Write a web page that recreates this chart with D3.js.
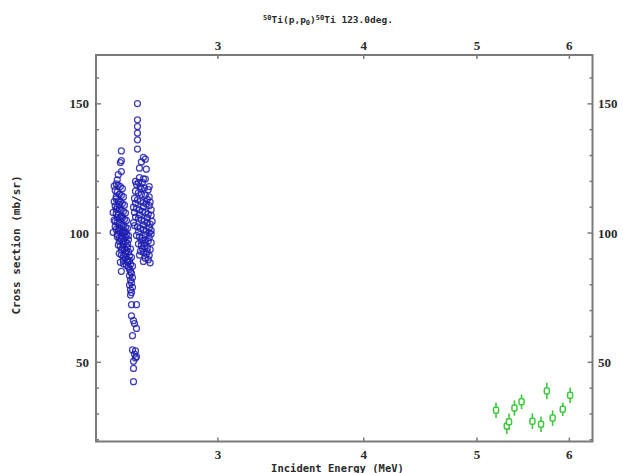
<!DOCTYPE html>
<html>
<head>
<meta charset="utf-8">
<script src="https://cdn.jsdelivr.net/npm/d3@7"></script>
<style>
  body { margin: 0; background: #fff; }
</style>
</head>
<body>
<div id="chart"></div>
<script>
// tick values
var xTicks = [3, 4, 5, 6];
var yMajor = [50, 100, 150];
var yMinor = [20, 30, 40, 60, 70, 80, 90, 110, 120, 130, 140, 160];

// blue set: [energy MeV, cross section mb/sr]
var blueLeft = [
  [2.48,131.8],[2.48,128.0],[2.475,127.3],[2.48,123.8],[2.465,122.6],[2.46,120.6],
  [2.455,119.0],[2.465,118.5],[2.475,118.0],[2.485,117.2],[2.445,118.2],
  [2.45,116.5],[2.46,115.8],[2.47,115.0],[2.48,114.6],[2.49,114.0],[2.455,114.0],
  [2.455,113.2],[2.465,112.5],[2.475,112.0],[2.485,111.4],[2.495,110.8],[2.445,112.2],
  [2.45,110.5],[2.46,110.0],[2.47,111.0],[2.455,109.2],[2.44,108.0],
  [2.47,109.4],[2.48,108.8],[2.49,108.3],[2.50,107.8],[2.455,107.5],[2.465,106.9],
  [2.475,106.2],[2.485,105.8],[2.495,105.3],[2.505,104.9],[2.46,106.0],[2.48,106.6],
  [2.45,104.5],[2.46,104.0],[2.47,103.6],[2.48,103.1],[2.49,102.7],[2.50,102.2],
  [2.51,101.8],[2.455,101.4],[2.465,101.0],[2.475,100.6],[2.485,100.2],[2.495,99.8],
  [2.505,99.4],[2.515,99.0],[2.445,105.0],[2.44,100.3],[2.45,102.5],[2.47,101.9],
  [2.49,100.9],[2.50,100.5],[2.46,99.5],[2.48,99.0],[2.50,98.4],[2.515,97.4],
  [2.46,98.6],[2.47,98.1],[2.48,97.6],[2.49,97.0],[2.50,96.5],[2.51,96.0],
  [2.465,95.4],[2.475,94.9],[2.485,94.3],[2.495,93.8],[2.505,93.2],[2.515,92.7],
  [2.47,96.8],[2.49,95.6],[2.51,94.6],[2.525,93.9],[2.48,93.4],[2.50,92.0],
  [2.47,92.1],[2.48,91.5],[2.49,91.0],[2.50,90.4],[2.51,89.8],[2.52,89.3],
  [2.52,91.2],[2.53,90.6],[2.49,89.4],[2.51,88.8],[2.525,87.9],[2.535,87.2],
  [2.475,88.7],[2.49,88.1],[2.505,87.5],[2.515,86.9],[2.48,85.2]
];

var blueTail = [
  [2.52,86.0],[2.525,85.0],[2.53,84.5],[2.52,83.5],[2.535,82.8],[2.525,81.8],
  [2.53,80.8],[2.52,79.9],[2.535,79.0],[2.525,78.0],[2.53,77.0],[2.525,76.0],
  [2.53,72.3],[2.555,72.3],[2.53,68.0],[2.54,66.1],[2.545,65.0],[2.555,63.1],
  [2.535,60.3],[2.535,54.8],[2.55,54.4],[2.545,53.2],[2.555,52.2],[2.55,51.7],
  [2.54,50.4],[2.54,47.6],[2.54,42.5]
];

var blueRight = [
  [2.56,150.1],[2.56,143.8],[2.56,141.2],[2.56,138.7],[2.56,136.1],[2.56,132.5],
  [2.59,129.3],[2.60,128.6],[2.57,125.1],[2.605,124.7],[2.60,120.9],[2.58,127.5],
  [2.57,121.5],[2.585,119.6],[2.555,118.8],[2.575,118.0],[2.595,117.4],[2.615,116.8],
  [2.55,116.2],[2.565,115.6],[2.58,115.0],[2.60,114.5],[2.62,114.0],[2.545,113.4],
  [2.56,112.8],[2.575,112.3],[2.59,111.8],[2.605,111.2],[2.62,110.6],[2.54,110.0],
  [2.555,109.5],[2.57,109.0],[2.585,108.4],[2.60,107.9],[2.615,107.3],[2.63,106.8],
  [2.55,106.2],[2.565,105.7],[2.58,105.1],[2.595,104.6],[2.61,104.0],[2.625,103.5],
  [2.545,102.9],[2.56,102.4],[2.575,101.8],[2.59,101.3],[2.605,100.7],[2.62,100.2],
  [2.63,99.6],[2.555,99.1],[2.57,98.5],[2.585,98.0],[2.60,97.4],[2.615,96.9],
  [2.63,96.3],[2.565,95.8],[2.58,95.2],[2.595,94.7],[2.61,94.1],[2.625,93.6],
  [2.575,93.0],[2.59,92.5],[2.605,91.9],[2.62,91.4],[2.60,90.3],[2.615,89.7],
  [2.625,88.5],[2.57,91.5],[2.59,89.0],
  [2.55,120.0],[2.58,117.0],[2.61,113.0],[2.59,110.2],[2.57,107.0],[2.61,106.0],
  [2.59,103.2],[2.62,102.0],[2.565,100.5],[2.60,99.3],[2.58,97.0],[2.62,98.2],
  [2.595,96.0],[2.61,92.8],[2.585,94.0],[2.63,101.0],[2.635,104.5],[2.63,109.0],
  [2.625,112.0],[2.545,108.0],[2.54,104.0],[2.55,111.5],[2.565,119.5],[2.59,121.0],
  [2.62,118.0]
];

// green set with errors
var greenE = [5.192, 5.303, 5.327, 5.384, 5.460, 5.578, 5.674, 5.739, 5.805, 5.922, 6.009];
var greenXs = [31.4, 25.3, 27.0, 32.3, 34.7, 27.2, 26.0, 38.9, 28.4, 31.8, 37.2];
var greenErr = [3.0, 3.0, 3.2, 3.0, 2.8, 3.0, 3.0, 3.2, 3.0, 2.6, 3.0];

var width = 623, height = 473;
var plotL = 96, plotR = 592.5, plotT = 55, plotB = 441.5;
var AXIS_COLOR = "#7a7a7a";
var TEXT_COLOR = "#2a2a2a";

var x = d3.scaleLog().domain([2.359, 6.28]).range([plotL, plotR]);
var y = d3.scaleLinear().domain([19.35, 168.9]).range([plotB, plotT]);

var svg = d3.select("#chart").append("svg")
    .attr("width", width)
    .attr("height", height)
    .style("display", "block");

svg.append("rect")
    .attr("width", width).attr("height", height).attr("fill", "#fff");

// title
var title = svg.append("text")
    .attr("x", 328).attr("y", 23)
    .attr("text-anchor", "middle")
    .attr("fill", TEXT_COLOR)
    .style("font-family", "'DejaVu Sans Mono', monospace")
    .style("font-weight", "bold")
    .style("font-size", "9.5px");
title.append("tspan").attr("font-size", "7px").attr("dy", -3).text("50");
title.append("tspan").attr("dy", 3).text("Ti(p,p");
title.append("tspan").attr("font-size", "7px").attr("dy", 2).text("0");
title.append("tspan").attr("dy", -2).text(")");
title.append("tspan").attr("font-size", "7px").attr("dy", -3).text("50");
title.append("tspan").attr("dy", 3).text("Ti 123.0deg.");

// frame
svg.append("rect")
    .attr("x", plotL).attr("y", plotT)
    .attr("width", plotR - plotL).attr("height", plotB - plotT)
    .attr("fill", "none")
    .attr("stroke", AXIS_COLOR)
    .attr("stroke-width", 2);

var axisG = svg.append("g")
    .attr("stroke", AXIS_COLOR)
    .attr("stroke-width", 1.5);

// x ticks, top and bottom, pointing inward
xTicks.forEach(function (t) {
    axisG.append("line").attr("x1", x(t)).attr("x2", x(t)).attr("y1", plotB).attr("y2", plotB - 4);
    axisG.append("line").attr("x1", x(t)).attr("x2", x(t)).attr("y1", plotT).attr("y2", plotT + 4);
});

// y ticks, left and right
yMajor.concat(yMinor).forEach(function (t) {
    var len = yMajor.indexOf(t) >= 0 ? 5 : 3;
    axisG.append("line").attr("x1", plotL).attr("x2", plotL + len).attr("y1", y(t)).attr("y2", y(t));
    axisG.append("line").attr("x1", plotR).attr("x2", plotR - len).attr("y1", y(t)).attr("y2", y(t));
});

var labelFont = "'Liberation Serif', serif";
var labels = svg.append("g")
    .attr("fill", TEXT_COLOR)
    .style("font-family", labelFont)
    .style("font-weight", "bold")
    .style("font-size", "13px");

labels.selectAll("text.xb")
    .data(xTicks).enter().append("text")
    .attr("class", "xb")
    .attr("x", function (d) { return x(d); })
    .attr("y", 459)
    .attr("text-anchor", "middle")
    .text(function (d) { return d; });

labels.selectAll("text.xt")
    .data(xTicks).enter().append("text")
    .attr("class", "xt")
    .attr("x", function (d) { return x(d); })
    .attr("y", 50)
    .attr("text-anchor", "middle")
    .text(function (d) { return d; });

labels.selectAll("text.yl")
    .data(yMajor).enter().append("text")
    .attr("class", "yl")
    .attr("x", 89)
    .attr("y", function (d) { return y(d) + 4.5; })
    .attr("text-anchor", "end")
    .text(function (d) { return d; });

labels.selectAll("text.yr")
    .data(yMajor).enter().append("text")
    .attr("class", "yr")
    .attr("x", 598)
    .attr("y", function (d) { return y(d) + 4.5; })
    .attr("text-anchor", "start")
    .text(function (d) { return d; });

// axis titles
svg.append("text")
    .attr("x", 337.5).attr("y", 472)
    .attr("text-anchor", "middle")
    .attr("fill", TEXT_COLOR)
    .style("font-family", "'DejaVu Sans Mono', monospace")
    .style("font-weight", "bold")
    .style("font-size", "10.5px")
    .text("Incident Energy (MeV)");

svg.append("text")
    .attr("transform", "translate(20,245)rotate(-90)")
    .attr("text-anchor", "middle")
    .attr("fill", TEXT_COLOR)
    .style("font-family", "'DejaVu Sans Mono', monospace")
    .style("font-weight", "bold")
    .style("font-size", "11px")
    .text("Cross section (mb/sr)");

// blue circles
var blueAll = blueLeft.concat(blueTail, blueRight);
svg.append("g").selectAll("circle")
    .data(blueAll).enter().append("circle")
    .attr("cx", function (d) { return x(d[0]); })
    .attr("cy", function (d) { return y(d[1]); })
    .attr("r", 3)
    .attr("fill", "none")
    .attr("stroke", "#1c1cb0")
    .attr("stroke-width", 1.25)
    .attr("stroke-opacity", 0.85);

// green points with error bars
var green = greenE.map(function (e, i) { return { e: e, v: greenXs[i], err: greenErr[i] }; });
var gg = svg.append("g");
gg.selectAll("line")
    .data(green).enter().append("line")
    .attr("x1", function (d) { return x(d.e); })
    .attr("x2", function (d) { return x(d.e); })
    .attr("y1", function (d) { return y(d.v - d.err); })
    .attr("y2", function (d) { return y(d.v + d.err); })
    .attr("stroke", "#3cc83c")
    .attr("stroke-width", 1.6);
gg.selectAll("rect")
    .data(green).enter().append("rect")
    .attr("x", function (d) { return x(d.e) - 2.5; })
    .attr("y", function (d) { return y(d.v) - 3; })
    .attr("width", 5)
    .attr("height", 6)
    .attr("rx", 1.5)
    .attr("fill", "#fff")
    .attr("stroke", "#3cc83c")
    .attr("stroke-width", 1.5);
</script>
</body>
</html>
